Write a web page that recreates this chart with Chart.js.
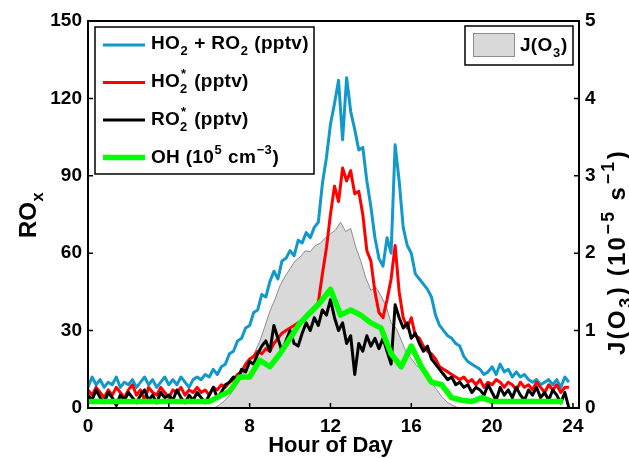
<!DOCTYPE html>
<html><head><meta charset="utf-8">
<script src="https://cdn.jsdelivr.net/npm/chart.js@4.4.1/dist/chart.umd.min.js"></script>
<style>html,body{margin:0;padding:0;background:#fff;}#wrap{width:629px;height:458px;}</style>
</head><body><div id="wrap"><canvas id="c" width="629" height="458"></canvas></div>
<script>
// ---- data ----
const hours = [0,0.2,0.4,0.6,0.8,1,1.2,1.4,1.6,1.8,2,2.2,2.4,2.6,2.8,3,3.2,3.4,3.6,3.8,4,4.2,4.4,4.6,4.8,5,5.2,5.4,5.6,5.8,
 6,6.2,6.4,6.6,6.8,7,7.2,7.4,7.6,7.8,8,8.2,8.4,8.6,8.8,9,9.2,9.4,9.6,9.8,
 10,10.2,10.4,10.6,10.8,11,11.2,11.4,11.6,11.8,12,12.2,12.4,12.6,12.8,13,13.2,13.4,13.6,13.8,
 14,14.2,14.4,14.6,14.8,15,15.2,15.4,15.6,15.8,16,16.2,16.4,16.6,16.8,17,17.2,17.4,17.6,17.8,
 18,18.2,18.4,18.6,18.8,19,19.2,19.4,19.6,19.8,20,20.2,20.4,20.6,20.8,21,21.2,21.4,21.6,21.8,
 22,22.2,22.4,22.6,22.8,23,23.2,23.4,23.6,23.8];
const ho2ro2 = [8,12,9,11,8,10,9,12,8,10, 9,11,8,10,12,9,11,8,10,12, 9,11,9,12,10,8,11,12,11,13,
 12,15,13,16,17,21,22,26,27,31, 32,37,38,44,43,49,53,50,57,58,
 61,59,65,64,68,66,70,72,87,97, 110,118,127,104,128,115,108,100,101,88,
 78,66,58,55,66,60,102,88,70,63, 60,52,50,48,46,43,36,32,30,28,
 27,25,24,20,18,17,16,15,13,14, 16,13,17,14,15,12,14,12,13,11,
 10,11,9,10,11,9,11,8,12,10];
const ho2star = [7,5,8,6,4,7,5,8,6,4, 7,9,5,7,3,8,6,5,8,6, 4,7,6,8,5,7,6,8,6,7,
 5,8,7,9,8,10,11,13,14,17, 19,20,22,21,23,22,25,27,29,30,
 31,32,33,34,36,37,38,41,52,62, 75,86,80,93,88,92,83,84,75,61,
 57,45,37,35,42,50,63,45,35,31, 35,28,27,24,22,21,19,16,15,14,
 13,12,11,12,10,11,9,11,8,10, 9,11,10,8,10,9,7,10,8,9,
 7,10,8,6,9,7,9,6,8,8];
const ro2star = [5,3,7,4,2,6,4,1,5,3, 6,4,2,5,7,3,5,2,6,4, 5,3,7,4,2,5,3,6,4,2,
 5,8,4,6,9,10,12,11,15,14, 18,17,21,24,26,22,32,27,22,26,
 30,25,24,29,33,30,35,32,38,36, 42,35,30,33,25,28,13,25,22,28,
 24,27,23,27,22,17,40,35,31,33, 27,29,25,22,24,19,17,15,13,11,
 12,9,10,8,9,6,8,7,5,9, 6,3,8,5,7,4,8,5,3,7,
 5,8,4,6,3,7,5,2,6,0];
const ohHours = [0,0.5,1,1.5,2,2.5,3,3.5,4,4.5,5,5.5,6,6.5,7,7.5,8,8.5,9,9.5,10,10.5,11,11.5,
 12,12.5,13,13.5,14,14.5,15,15.5,16,16.5,17,17.5,18,18.5,19,19.5,20,20.5,21,21.5,22,22.5,23,23.5];
const ohVals = [2.5,2.5,2.5,2.5,2.5,2.5,2.5,2.5,2.5,2.5,2.5,2.5,2.5,4.5,6.5,12,12,18.5,16,21,27,33,37,41,
 46,36,38,36,33,31,21,16,24,16,10,9,4,3,2.5,4,2.5,2.5,2.5,2.5,2.5,2.5,2.5,2.5];
const jHours = [6,6.25,6.5,6.75,7,7.25,7.5,7.75,8,8.25,8.5,8.75,9,9.25,9.5,9.75,10,10.25,10.5,10.75,
 11,11.25,11.5,11.75,12,12.25,12.5,12.75,13,13.25,13.5,13.75,14,14.25,14.5,14.75,15,15.25,15.5,15.75,
 16,16.25,16.5,16.75,17,17.25,17.5,17.75,18,18.25,18.5];
const jO3 = [0,0,0.04,0.09,0.16,0.26,0.37,0.47,0.6,0.72,0.86,1.05,1.25,1.4,1.58,1.7,1.8,1.9,1.95,2.03,
 2.02,2.1,2.13,2.2,2.25,2.3,2.4,2.28,2.32,2.08,1.9,1.68,1.52,1.56,1.45,1.32,1.1,1.03,0.88,0.72,
 0.64,0.55,0.5,0.42,0.33,0.24,0.15,0.08,0.04,0.01,0];
const xTicks = [0,4,8,12,16,20,24];
const yTicksLeft = [0,30,60,90,120,150];
const yTicksRight = [0,1,2,3,4,5];

// ---- helpers ----
const FAM = '"Liberation Sans", Arial, Helvetica, sans-serif';
function pts(xs, ys){ return xs.map((x,i)=>({x:x, y:ys[i]})); }
function tw(ctx, s, ls){ let w=0; for (const ch of s) w += ctx.measureText(ch).width + ls; return w; }
function td(ctx, s, x, y, ls){ let cx=x; for (const ch of s){ ctx.fillText(ch, cx, y); cx += ctx.measureText(ch).width + ls; } return cx-x; }
function richWidth(ctx, parts, size, ls, ss){
  let w = 0; const s = size*ss;
  for (const p of parts){
    if (p.t!==undefined){ ctx.font = 'bold '+size+'px '+FAM; w += tw(ctx,p.t,ls); }
    else if (p.sub!==undefined && p.sup!==undefined){ ctx.font='bold '+s+'px '+FAM; w += Math.max(tw(ctx,p.sub,ls), tw(ctx,p.sup,ls))+1; }
    else { ctx.font='bold '+s+'px '+FAM; w += tw(ctx, p.sub!==undefined?p.sub:p.sup, ls)+1; }
  }
  return w;
}
function drawRich(ctx, parts, x, y, size, align, ls, ss){
  ls = ls||0; ss = ss||0.68;
  const s = size*ss;
  let cx = x;
  if (align==='center') cx = x - richWidth(ctx, parts, size, ls, ss)/2;
  ctx.textAlign='left'; ctx.textBaseline='alphabetic'; ctx.fillStyle='#000';
  for (const p of parts){
    if (p.t!==undefined){ ctx.font='bold '+size+'px '+FAM; cx += td(ctx,p.t,cx,y,ls); }
    else if (p.sub!==undefined && p.sup!==undefined){
      ctx.font='bold '+s+'px '+FAM;
      const w1 = td(ctx,p.sub,cx,y+size*0.3,ls), w2 = td(ctx,p.sup,cx+1,y-size*0.5,ls);
      cx += Math.max(w1,w2)+1;
    } else if (p.sub!==undefined){ ctx.font='bold '+s+'px '+FAM; cx += td(ctx,p.sub,cx+0.5,y+size*0.3,ls)+1; }
    else { ctx.font='bold '+s+'px '+FAM; cx += td(ctx,p.sup,cx+0.5,y-size*0.45,ls)+1; }
  }
}

const legendItems = [
  {color:'#1398cc', width:3, parts:[{t:'HO'},{sub:'2'},{t:' + RO'},{sub:'2'},{t:' (pptv)'}]},
  {color:'#ff0000', width:3, parts:[{t:'HO'},{sub:'2',sup:'*'},{t:' (pptv)'}]},
  {color:'#000000', width:3, parts:[{t:'RO'},{sub:'2',sup:'*'},{t:' (pptv)'}]},
  {color:'#00ff00', width:5.5, parts:[{t:'OH (10'},{sup:'5'},{t:' cm'},{sup:'\u22123'},{t:')'}]}
];

const decor = {
  id:'decor',
  afterDraw(chart){
    const ctx = chart.ctx, a = chart.chartArea;
    const sx = chart.scales.x, sy = chart.scales.y, sy1 = chart.scales.y1;
    ctx.save();
    // inward ticks
    ctx.strokeStyle='#000'; ctx.lineWidth=1.5;
    ctx.beginPath();
    xTicks.forEach(v=>{ const p=sx.getPixelForValue(v); ctx.moveTo(p,a.bottom); ctx.lineTo(p,a.bottom-5); });
    yTicksLeft.forEach(v=>{ const p=sy.getPixelForValue(v); ctx.moveTo(a.left,p); ctx.lineTo(a.left+5,p); });
    yTicksRight.forEach(v=>{ const p=sy1.getPixelForValue(v); ctx.moveTo(a.right,p); ctx.lineTo(a.right-5,p); });
    ctx.stroke();
    // box
    ctx.lineWidth=2;
    ctx.strokeRect(a.left, a.top, a.right-a.left, a.bottom-a.top);
    // legend 1
    ctx.fillStyle='#fff'; ctx.fillRect(95,27,219,147);
    ctx.lineWidth=1.5; ctx.strokeStyle='#000'; ctx.strokeRect(95,27,219,147);
    const lineYs=[45,82.5,120,157.5], baseYs=[49,87,125,163];
    legendItems.forEach((it,i)=>{
      ctx.strokeStyle=it.color; ctx.lineWidth=it.width;
      ctx.beginPath(); ctx.moveTo(103,lineYs[i]); ctx.lineTo(145,lineYs[i]); ctx.stroke();
      drawRich(ctx, it.parts, 151, baseYs[i], 19, 'left', 0.3);
    });
    // legend 2
    ctx.fillStyle='#fff'; ctx.fillRect(465,26,108,39);
    ctx.lineWidth=1.5; ctx.strokeStyle='#000'; ctx.strokeRect(465,26,108,39);
    ctx.fillStyle='#d9d9d9'; ctx.fillRect(473,33,42,24);
    ctx.lineWidth=1; ctx.strokeStyle='#8c8c8c'; ctx.strokeRect(473.5,33.5,41,23);
    drawRich(ctx, [{t:'J(O'},{sub:'3'},{t:')'}], 520, 51, 19, 'left', 0.3);
    // axis titles
    drawRich(ctx, [{t:'Hour of Day'}], (a.left+a.right)/2-3, 452, 22, 'center');
    ctx.save(); ctx.translate(36, 215); ctx.rotate(-Math.PI/2);
    drawRich(ctx, [{t:'RO'},{sub:'x'}], 0, 0, 24, 'center'); ctx.restore();
    ctx.save(); ctx.translate(625, 252); ctx.rotate(-Math.PI/2);
    drawRich(ctx, [{t:'J(O'},{sub:'3'},{t:') (10'},{sup:'\u22125'},{t:' s'},{sup:'\u22121'},{t:')'}], 0, 0, 24, 'center', 2.2, 0.74); ctx.restore();
    ctx.restore();
  }
};

const tickFont = {family:FAM, size:19, weight:'bold'};
new Chart(document.getElementById('c'), {
  type:'line',
  data:{ datasets:[
    {label:'OH', data:pts(ohHours, ohVals), yAxisID:'y', borderColor:'#00ff00', borderWidth:5.5, order:0},
    {label:'RO2*', data:pts(hours, ro2star), yAxisID:'y', borderColor:'#000000', borderWidth:3, order:1},
    {label:'HO2*', data:pts(hours, ho2star), yAxisID:'y', borderColor:'#ff0000', borderWidth:3, order:2},
    {label:'HO2+RO2', data:pts(hours, ho2ro2), yAxisID:'y', borderColor:'#1398cc', borderWidth:3, order:3},
    {label:'J(O3)', data:pts(jHours, jO3), yAxisID:'y1', borderColor:'#8c8c8c', borderWidth:1, backgroundColor:'#d9d9d9', fill:'origin', order:4}
  ]},
  options:{
    responsive:false, animation:false, devicePixelRatio:1,
    layout:{padding:{top:21,left:0,right:0,bottom:0}},
    plugins:{legend:{display:false}, tooltip:{enabled:false}},
    elements:{point:{radius:0}, line:{tension:0, borderJoinStyle:'round'}},
    scales:{
      x:{type:'linear', min:0, max:24.3, border:{display:false}, grid:{display:false, drawTicks:false},
         afterBuildTicks(s){ s.ticks = xTicks.map(v=>({value:v})); },
         ticks:{font:tickFont, color:'#000', padding:7, maxRotation:0, autoSkip:false},
         afterFit(s){ s.height=50; }},
      y:{position:'left', min:0, max:150, border:{display:false}, grid:{display:false, drawTicks:false},
         afterBuildTicks(s){ s.ticks = yTicksLeft.map(v=>({value:v})); },
         ticks:{font:tickFont, color:'#000', padding:6},
         afterFit(s){ s.width=88; }},
      y1:{position:'right', min:0, max:5, border:{display:false}, grid:{display:false, drawTicks:false},
         afterBuildTicks(s){ s.ticks = yTicksRight.map(v=>({value:v})); },
         ticks:{font:tickFont, color:'#000', padding:6},
         afterFit(s){ s.width=50; }}
    }
  },
  plugins:[decor]
});
</script></body></html>
